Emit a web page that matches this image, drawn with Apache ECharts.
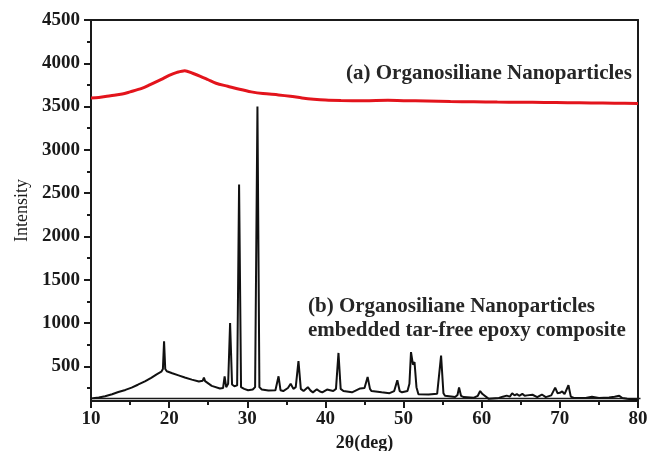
<!DOCTYPE html>
<html>
<head>
<meta charset="utf-8">
<script src="https://cdn.jsdelivr.net/npm/echarts@6/dist/echarts.min.js"></script>
<style>
  html, body { margin: 0; padding: 0; background: #fff; }
  #chart { width: 649px; height: 451px; }
</style>
</head>
<body>
<div id="chart"></div>
<script>
  // (a) organosiliane nanoparticles - red trace
  var angleA = [10, 11, 12.5, 14, 15, 16.5, 17.5, 19, 20, 21, 22, 23, 24, 25, 26, 27.5, 29, 30.5, 32, 34,
    35.5, 37, 38.5, 40, 42, 45, 48, 50, 53, 56, 59, 62, 65, 68, 71, 74, 77, 80];
  var intensityA = [3600, 3605, 3625, 3645, 3670, 3710, 3750, 3815, 3860, 3895, 3915, 3885, 3850, 3810, 3770, 3735, 3700, 3670, 3650, 3635,
    3620, 3600, 3585, 3575, 3570, 3568, 3572, 3568, 3565, 3558, 3555, 3552, 3550, 3548, 3545, 3542, 3540, 3535];

  // (b) embedded tar-free epoxy composite - black trace
  var angleB = [10, 11, 11.8, 12.7, 13.5, 14.4, 15.2, 16.0, 16.9, 17.7, 18.4, 19.0, 19.2, 19.35, 19.5, 19.7, 20.4, 21.2, 22.0, 22.9,
    23.8, 24.3, 24.45, 24.6, 25.45, 26.5, 26.9, 27.1, 27.3, 27.55, 27.8, 28.05, 28.35, 28.7, 28.95, 29.2, 29.6, 30.1, 30.7, 31.0,
    31.3, 31.55, 31.85, 32.7, 33.6, 34.0, 34.25, 34.6, 35.2, 35.55, 35.9, 36.2, 36.55, 36.85, 37.2, 37.75, 38.1, 38.4, 38.9, 39.3,
    39.6, 40.2, 41.0, 41.35, 41.67, 41.95, 42.3, 43.4, 44.45, 45.0, 45.4, 45.7, 45.9, 47.2, 48.2, 48.8, 49.2, 49.5, 49.8, 50.5,
    50.75, 50.95, 51.2, 51.4, 51.65, 51.9, 53.2, 54.3, 54.8, 55.1, 55.3, 56.6, 56.9, 57.1, 57.35, 57.7, 59.0, 59.5, 59.8, 60.1,
    60.3, 60.9, 62.2, 62.7, 63.2, 63.6, 63.9, 64.2, 64.5, 64.8, 65.2, 65.5, 65.8, 66.5, 67.1, 67.7, 68.2, 68.9, 69.4, 69.7,
    70.0, 70.3, 70.6, 71.1, 71.4, 71.8, 73.3, 74.1, 75.0, 76.3, 77.0, 77.6, 78.0, 78.6, 79.7, 80];
  var intensityB = [128, 140, 154, 178, 204, 228, 255, 288, 327, 368, 408, 438, 470, 790, 470, 444, 420, 396, 372, 347,
    325, 335, 370, 330, 275, 245, 250, 385, 260, 300, 1000, 290, 270, 280, 2600, 260, 240, 225, 232, 260,
    3500, 260, 232, 222, 225, 385, 225, 215, 250, 300, 240, 260, 560, 240, 215, 260, 220, 200, 235, 210,
    200, 232, 215, 240, 655, 240, 215, 200, 245, 250, 378, 240, 215, 200, 190, 215, 340, 215, 200, 215,
    300, 665, 520, 550, 260, 178, 175, 185, 625, 190, 160, 145, 170, 255, 160, 145, 138, 160, 215, 180,
    175, 125, 135, 150, 162, 150, 190, 165, 180, 160, 182, 160, 165, 172, 145, 175, 145, 165, 255, 190,
    195, 210, 180, 282, 150, 135, 135, 150, 135, 140, 150, 160, 135, 125, 115, 110];

  var yMajor = [500, 1000, 1500, 2000, 2500, 3000, 3500, 4000, 4500];
  var yMinor = [250, 750, 1250, 1750, 2250, 2750, 3250, 3750, 4250];
  var xMajor = [10, 20, 30, 40, 50, 60, 70, 80];
  var xMinor = [15, 25, 35, 45, 55, 65, 75];
  var labelA = '(a) Organosiliane Nanoparticles';
  var labelB = '(b) Organosiliane Nanoparticles\nembedded tar-free epoxy composite';

  function pairs(xs, ys) {
    var out = [];
    for (var i = 0; i < xs.length; i++) out.push([xs[i], ys[i]]);
    return out;
  }

  var serif = '"Liberation Serif", "DejaVu Serif", serif';
  var ink = '#1a1a1a';
  var tickLine = { color: ink, width: 2 };
  var frame = { show: true, onZero: false, lineStyle: { color: ink, width: 2 } };
  var bare = { axisTick: { show: false }, axisLabel: { show: false }, splitLine: { show: false } };

  var dom = echarts.init(document.getElementById('chart'));
  var option = {
    animation: false,
    backgroundColor: '#fff',
    grid: { left: 91, right: 11, top: 20, bottom: 50, outerBoundsMode: 'none', containLabel: false },
    xAxis: [{
      type: 'value', position: 'bottom', min: 10, max: 80,
      axisLine: frame,
      axisTick: { inside: false, length: 7, customValues: xMajor, lineStyle: tickLine },
      axisLabel: { customValues: xMajor, color: ink, fontFamily: serif, fontWeight: 'bold', fontSize: 19, margin: 9 },
      splitLine: { show: false },
      name: '2θ(deg)', nameLocation: 'middle', nameGap: 31,
      nameTextStyle: { color: ink, fontFamily: serif, fontWeight: 'bold', fontSize: 18 }
    }, Object.assign({
      type: 'value', position: 'bottom', min: 10, max: 80,
      axisLine: { show: false }
    }, bare, {
      axisTick: { inside: false, length: 4, customValues: xMinor, lineStyle: tickLine }
    }), Object.assign({
      type: 'value', position: 'top', min: 10, max: 80, axisLine: frame
    }, bare)],
    yAxis: [{
      type: 'value', position: 'left', min: 100, max: 4500,
      axisLine: frame,
      axisTick: { inside: false, length: 7, customValues: yMajor, lineStyle: tickLine },
      axisLabel: {
        customValues: yMajor, color: ink, fontFamily: serif, fontWeight: 'bold', fontSize: 19, margin: 11,
        formatter: function (v) { return String(v); }
      },
      splitLine: { show: false },
      name: 'Intensity', nameLocation: 'middle', nameGap: 60,
      nameTextStyle: { color: ink, fontFamily: serif, fontSize: 18 }
    }, Object.assign({
      type: 'value', position: 'left', min: 100, max: 4500,
      axisLine: { show: false }
    }, bare, {
      axisTick: { inside: false, length: 4, customValues: yMinor, lineStyle: tickLine }
    }), Object.assign({
      type: 'value', position: 'right', min: 100, max: 4500, axisLine: frame
    }, bare)],
    series: [{
      name: 'a', type: 'line', xAxisIndex: 0, yAxisIndex: 0,
      data: pairs(angleA, intensityA), smooth: 0.3, showSymbol: false,
      lineStyle: { color: '#e3141c', width: 3 }
    }, {
      name: 'b', type: 'line', xAxisIndex: 0, yAxisIndex: 0,
      data: pairs(angleB, intensityB), showSymbol: false,
      lineStyle: { color: '#111', width: 2 }
    }],
    graphic: [{
      type: 'text', left: 346, top: 63,
      style: { text: labelA, font: 'bold 21px ' + serif, fill: '#262626' }
    }, {
      type: 'text', left: 308, top: 295,
      style: { text: labelB, font: 'bold 21px ' + serif, fill: '#262626', lineHeight: 24 }
    }, {
      // inner rule just above the bottom axis
      type: 'line', left: 91, top: 396, silent: true,
      shape: { x1: 0, y1: 0, x2: 547, y2: 0 },
      style: { stroke: ink, lineWidth: 1.5 }
    }]
  };
  dom.setOption(option);
  window.addEventListener('resize', function () { dom.resize(); });
</script>
</body>
</html>
